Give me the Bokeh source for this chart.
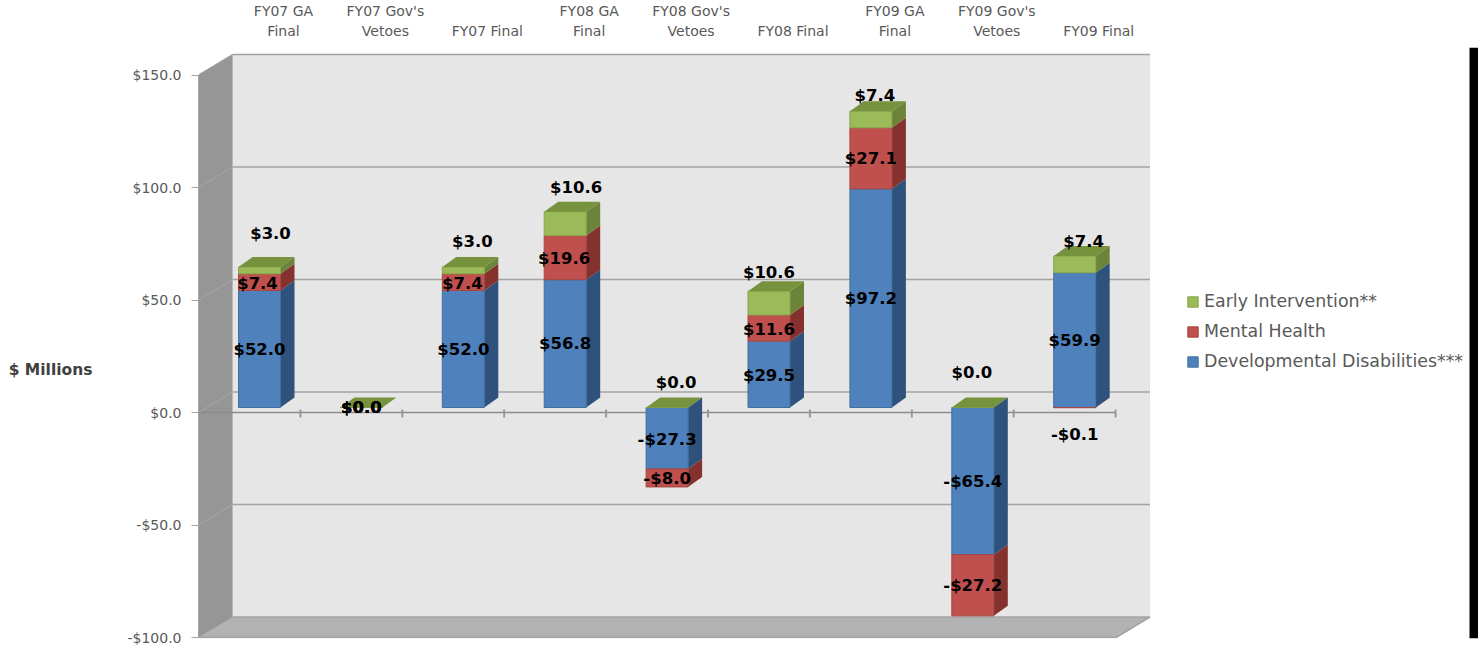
from bokeh.plotting import figure
from bokeh.models import Range1d, LinearAxis, FixedTicker, NumeralTickFormatter, Legend, LegendItem, ColumnDataSource, BoxAnnotation
from bokeh.core.properties import value
from bokeh.embed import file_html
from bokeh.resources import INLINE

# ---- data ----
categories = ["FY07 GA\nFinal", "FY07 Gov's\nVetoes", "FY07 Final", "FY08 GA\nFinal", "FY08 Gov's\nVetoes",
              "FY08 Final", "FY09 GA\nFinal", "FY09 Gov's\nVetoes", "FY09 Final"]
developmental = [52.0, 0.0, 52.0, 56.8, -27.3, 29.5, 97.2, -65.4, 59.9]
mental_health = [7.4, 0.0, 7.4, 19.6, -8.0, 11.6, 27.1, -27.2, -0.1]
early_intervention = [3.0, 0.0, 3.0, 10.6, 0.0, 10.6, 7.4, 0.0, 7.4]
value_ticks = [-100, -50, 0, 50, 100, 150]

# ---- geometry (pixels converted to data units) ----
PX_PER_CAT = 101.9
PX_PER_USD = 2.25
WIDTH, HEIGHT = 1478, 646
FRAME_L, FRAME_R, FRAME_T, FRAME_B = 198, 1478, 47, 638
BAR0, ZERO = 259.0, 412.0
x0 = (FRAME_L - BAR0) / PX_PER_CAT
x1 = (FRAME_R - BAR0) / PX_PER_CAT
y_top = (ZERO - FRAME_T) / PX_PER_USD
y_bot = (ZERO - FRAME_B) / PX_PER_USD

WALL_DX, WALL_DY = 34 / PX_PER_CAT, 20.5 / PX_PER_USD
BAR_DX, BAR_DY = 14 / PX_PER_CAT, 10 / PX_PER_USD
BAR_HALF = 21 / PX_PER_CAT
BASE = 5 / PX_PER_USD
Y_MIN, Y_MAX = value_ticks[0], value_ticks[-1]

FRONT = {"dev": "#4F81BD", "men": "#C0504D", "ear": "#9BBB59"}
SIDE = {"dev": "#2F527C", "men": "#85322F", "ear": "#6C8439"}
EDGE = {"dev": "#41709F", "men": "#A84542", "ear": "#88A44C"}
TOP = "#76923C"
TXT = "#595959"
GRID = "#A3A3A3"

p = figure(width=WIDTH, height=HEIGHT, output_backend="svg", toolbar_location=None,
           x_range=Range1d(x0, x1), y_range=Range1d(y_bot, y_top),
           min_border_left=FRAME_L, min_border_right=WIDTH - FRAME_R, min_border_top=FRAME_T,
           min_border_bottom=HEIGHT - FRAME_B, outline_line_color=None, x_axis_location=None, y_axis_location="left")
p.grid.visible = False

# value axis
ax = p.yaxis[0]
ax.ticker = FixedTicker(ticks=value_ticks)
ax.formatter = NumeralTickFormatter(format="$0.0")
ax.bounds = (Y_MIN, Y_MAX)
ax.major_tick_in = 0
ax.major_tick_out = 7
ax.minor_tick_line_color = None
ax.axis_line_color = GRID
ax.major_tick_line_color = GRID
ax.major_label_text_color = TXT
ax.major_label_text_font = "DejaVu Sans"
ax.major_label_text_font_size = "14px"
ax.major_label_standoff = 10
# the leading blank lines move the horizontal title down the axis to where the source has it
ax.axis_label = "\n\n\n$ Millions"
ax.axis_label_orientation = "horizontal"
ax.axis_label_standoff = 32
ax.axis_label_text_font = "DejaVu Sans"
ax.axis_label_text_font_style = "bold"
ax.axis_label_text_font_size = "15.5px"
ax.axis_label_text_line_height = 1.0
ax.axis_label_text_color = "#404040"

# category axis on top, its labels sitting right of the bars
p.extra_x_ranges = {"cat": Range1d(x0 - 24 / PX_PER_CAT, x1 - 24 / PX_PER_CAT)}
cat_axis = LinearAxis(x_range_name="cat", ticker=FixedTicker(ticks=list(range(len(categories)))),
                      major_label_overrides={i: c for i, c in enumerate(categories)},
                      axis_line_color=None, major_tick_line_color=None, minor_tick_line_color=None,
                      major_label_text_color=TXT, major_label_text_font="DejaVu Sans",
                      major_label_text_font_size="14px", major_label_standoff=3)
p.add_layout(cat_axis, "above")

# walls
n = len(categories)
right_front = x0 + 917.5 / PX_PER_CAT
p.patch([x0, x0 + WALL_DX, x0 + WALL_DX, x0], [Y_MIN, Y_MIN + WALL_DY, Y_MAX + WALL_DY, Y_MAX],
        fill_color="#969696", line_color="#8C8C8C", line_width=1)
p.patch([x0 + WALL_DX, right_front + WALL_DX, right_front + WALL_DX, x0 + WALL_DX],
        [Y_MIN + WALL_DY, Y_MIN + WALL_DY, Y_MAX + WALL_DY, Y_MAX + WALL_DY],
        fill_color="#E6E6E6", line_color=None)
p.patch([x0, right_front, right_front + WALL_DX, x0 + WALL_DX],
        [Y_MIN, Y_MIN, Y_MIN + WALL_DY, Y_MIN + WALL_DY],
        fill_color="#B2B2B2", line_color=None)
p.segment([x0] * len(value_ticks), value_ticks, [x0 + WALL_DX] * len(value_ticks),
          [t + WALL_DY for t in value_ticks], line_color="#A6A6A6", line_width=1)
p.segment([x0 + WALL_DX] * len(value_ticks), [t + WALL_DY for t in value_ticks],
          [right_front + WALL_DX] * len(value_ticks), [t + WALL_DY for t in value_ticks],
          line_color=GRID, line_width=1.5)
p.segment([x0, right_front], [Y_MIN, Y_MIN], [right_front, right_front + WALL_DX], [Y_MIN, Y_MIN + WALL_DY],
          line_color=GRID, line_width=1.5)

# category axis line at zero, with its ticks
p.segment([x0], [0], [right_front], [0], line_color="#8C8C8C", line_width=1.5)
edges = [x0 + (i + 1) for i in range(n)]
p.segment(edges, [3 / PX_PER_USD] * n, edges, [-5 / PX_PER_USD] * n, line_color="#999999", line_width=2)

# stacks
def stack(values_by_series):
    out = {}
    pos = [BASE] * n
    neg = [BASE] * n
    for key, vals in values_by_series:
        b, t = [], []
        for i, v in enumerate(vals):
            if v >= 0:
                b.append(pos[i]); t.append(pos[i] + v); pos[i] += v
            else:
                t.append(neg[i]); b.append(neg[i] + v); neg[i] += v
        out[key] = (b, t)
    return out, pos

series = [("dev", developmental), ("men", mental_health), ("ear", early_intervention)]
stacks, tops = stack(series)
cx = list(range(n))
front_renderers = {}
for key, vals in series:
    b, t = stacks[key]
    xs = [[i + BAR_HALF, i + BAR_HALF + BAR_DX, i + BAR_HALF + BAR_DX, i + BAR_HALF] for i in cx if vals[i] != 0]
    ys = [[b[i], b[i] + BAR_DY, t[i] + BAR_DY, t[i]] for i in cx if vals[i] != 0]
    p.patches(xs, ys, fill_color=SIDE[key], line_color=None)
    front_renderers[key] = p.quad(left=[i - BAR_HALF for i in cx], right=[i + BAR_HALF for i in cx],
                                  bottom=b, top=t, fill_color=FRONT[key], line_color=EDGE[key], line_width=1)
p.patches([[i - BAR_HALF, i + BAR_HALF, i + BAR_HALF + BAR_DX, i - BAR_HALF + BAR_DX] for i in cx],
          [[tops[i], tops[i], tops[i] + BAR_DY, tops[i] + BAR_DY] for i in cx],
          fill_color=TOP, line_color=None)

# data labels: centred on a segment, with hand-placed nudges as in the source (px; dy positive = up)
nudges = {
    "dev": ([0] * 9, [0, 0, 0, 0, -1, -1, 0, 0, 0]),
    "men": ([-2, 0, -1, -1, 0, 0, 0, 0, 0], [-1, 0, -1, -1, -1, -1, 0, 0, -27]),
    "ear": ([11, 0, 9, 11, 9, 0, 4, -1, 9], [37, 0, 29, 36, 25, 31, 24, 35, 23]),
}
for key, vals in series:
    b, t = stacks[key]
    dx, dy = nudges[key]
    src = ColumnDataSource(dict(x=cx, y=[(b[i] + t[i]) / 2 for i in cx],
                                t=[("-" if v < 0 else "") + "$%.1f" % abs(v) for v in vals],
                                dx=dx, dy=[-d for d in dy]))
    p.text("x", "y", text="t", source=src, x_offset="dx", y_offset="dy", text_align="center", text_baseline="middle",
           text_font=value("DejaVu Sans"), text_font_style="bold", text_font_size="16.5px", text_color="#000000")

# legend
legend = Legend(items=[LegendItem(label="Early Intervention**", renderers=[front_renderers["ear"]]),
                       LegendItem(label="Mental Health", renderers=[front_renderers["men"]]),
                       LegendItem(label="Developmental Disabilities***", renderers=[front_renderers["dev"]])],
                location=(988, 267), background_fill_alpha=0, border_line_color=None,
                glyph_width=13, glyph_height=13, spacing=10, padding=0, margin=0, label_standoff=5,
                label_text_font="DejaVu Sans", label_text_font_size="17.4px", label_text_color=TXT)
p.add_layout(legend, "center")

# the dark strip along the right edge of the source image
p.add_layout(BoxAnnotation(left=1469, right=WIDTH, left_units="canvas", right_units="canvas",
                           fill_color="#000000", fill_alpha=1, line_color=None))

open("out.html", "w").write(file_html(p, INLINE))
